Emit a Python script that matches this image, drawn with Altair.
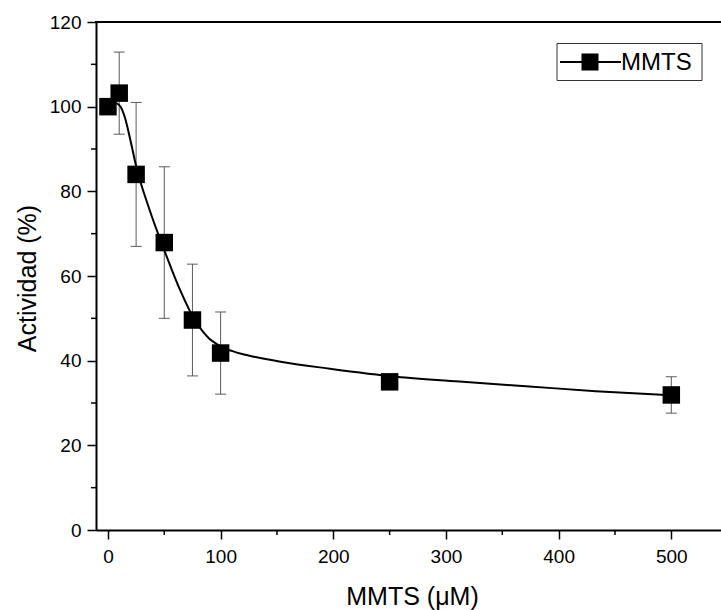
import altair as alt
import pandas as pd

# Measured activity (%) versus MMTS concentration (µM)
conc = [0, 10, 25, 50, 75, 100, 250, 500]
activity = [100, 103.2, 84, 67.9, 49.6, 41.8, 35.0, 31.9]
sd = [0, 9.7, 17.0, 17.9, 13.2, 9.7, 1.5, 4.3]

# Fitted curve traced through the series
fit_conc = [0, 5, 10, 15, 20, 25, 37, 50, 64, 77, 85, 90, 95, 100, 110, 120, 132, 152,
            197, 256, 315, 374, 433, 500]
fit_act = [101, 101, 100.4, 97.5, 92.0, 86.0, 75.6, 66.1, 56.7, 49.6, 46.6, 45.2, 44.2, 43.4,
           42.3, 41.5, 40.8, 39.8, 38.1, 36.2, 35.0, 33.9, 32.8, 31.8]

# Axis tick positions
x_major = [0, 100, 200, 300, 400, 500]
x_minor = [50, 150, 250, 350, 450]
y_major = [0, 20, 40, 60, 80, 100, 120]
y_minor = [10, 30, 50, 70, 90, 110]

legend_label = ["MMTS"]

FONT = "Liberation Sans"
W, H = 625, 508

pts = pd.DataFrame({
    "c": conc,
    "act": activity,
    "lo": [a - e for a, e in zip(activity, sd)],
    "hi": [a + e for a, e in zip(activity, sd)],
})
fit = pd.DataFrame({"c": fit_conc, "act": fit_act})
leg = pd.DataFrame({"label": legend_label})
xm = pd.DataFrame({"c": x_minor})
ym = pd.DataFrame({"act": y_minor})

xscale = alt.Scale(domain=[-10.6, 544.1], nice=False, zero=False)
yscale = alt.Scale(domain=[0, 120], nice=False)

xaxis = alt.Axis(
    values=x_major, tickSize=9,
    tickWidth=1.5, tickColor="black",
    domainColor="black", domainWidth=2,
    labelFont=FONT, labelFontSize=19, labelColor="black", labelPadding=8,
    grid=False,
    title="MMTS (μM)", titleFont=FONT, titleFontSize=25, titleFontWeight="normal",
    titleColor="black", titleX=316, titleY=74, titleBaseline="alphabetic",
)
yaxis = alt.Axis(
    values=y_major, tickSize=9,
    tickWidth=1.5, tickColor="black",
    domainColor="black", domainWidth=2,
    labelFont=FONT, labelFontSize=19, labelColor="black", labelPadding=6,
    grid=False,
    title="Actividad (%)", titleFont=FONT, titleFontSize=25, titleFontWeight="normal",
    titleColor="black", titleX=-61, titleY=256, titleBaseline="alphabetic",
)

X = alt.X("c:Q", scale=xscale, axis=xaxis)
Y = alt.Y("act:Q", scale=yscale, axis=yaxis)

# Error bars (stems and caps) sit behind the squares
err = alt.Chart(pts).mark_rule(color="#5a5a5a", strokeWidth=1).encode(
    x=X, y=alt.Y("lo:Q", scale=yscale, axis=yaxis), y2="hi:Q"
)
cap_hi = alt.Chart(pts).mark_tick(orient="horizontal", size=11, thickness=1, color="#5a5a5a", opacity=1).encode(
    x=X, y=alt.Y("hi:Q", scale=yscale, axis=yaxis)
)
cap_lo = alt.Chart(pts).mark_tick(orient="horizontal", size=11, thickness=1, color="#5a5a5a", opacity=1).encode(
    x=X, y=alt.Y("lo:Q", scale=yscale, axis=yaxis)
)
curve = alt.Chart(fit).mark_line(color="black", strokeWidth=2, interpolate="monotone").encode(x=X, y=Y)
squares = alt.Chart(pts).mark_square(size=306, color="black", filled=True, opacity=1).encode(x=X, y=Y)

# Short minor ticks outside the plot area
x_minor_ticks = alt.Chart(xm).mark_rule(color="black", strokeWidth=1.5).encode(
    x=X, y=alt.value(H), y2=alt.value(H + 5)
)
y_minor_ticks = alt.Chart(ym).mark_rule(color="black", strokeWidth=1.5).encode(
    y=Y, x=alt.value(-5), x2=alt.value(0)
)

top_frame = alt.Chart(leg).mark_rule(color="black", strokeWidth=2).encode(
    x=alt.value(-1), x2=alt.value(W), y=alt.value(0), y2=alt.value(0)
)

# Legend box in the upper right corner
leg_box = alt.Chart(leg).mark_rect(fill="white", stroke="#333333", strokeWidth=1).encode(
    x=alt.value(461), x2=alt.value(606), y=alt.value(21.5), y2=alt.value(58.5)
)
leg_line = alt.Chart(leg).mark_rule(color="black", strokeWidth=2).encode(
    x=alt.value(464), x2=alt.value(525), y=alt.value(40), y2=alt.value(40)
)
leg_sq = alt.Chart(leg).mark_square(size=290, color="black", filled=True, opacity=1).encode(
    x=alt.value(494), y=alt.value(40)
)
leg_text = alt.Chart(leg).mark_text(
    align="left", baseline="middle", font=FONT, fontSize=24, color="black"
).encode(x=alt.value(525), y=alt.value(41), text="label:N")

chart = alt.layer(
    err, cap_hi, cap_lo, curve, squares, x_minor_ticks, y_minor_ticks,
    top_frame, leg_box, leg_line, leg_sq, leg_text
).properties(
    width=W, height=H,
    autosize=alt.AutoSizeParams(type="none"),
    padding={"left": 96, "top": 22, "right": 0, "bottom": 80},
    background="white",
).configure_view(strokeWidth=0, strokeOpacity=0, stroke="white")

chart.save("out.html", embed_options={"renderer": "svg", "actions": False})
